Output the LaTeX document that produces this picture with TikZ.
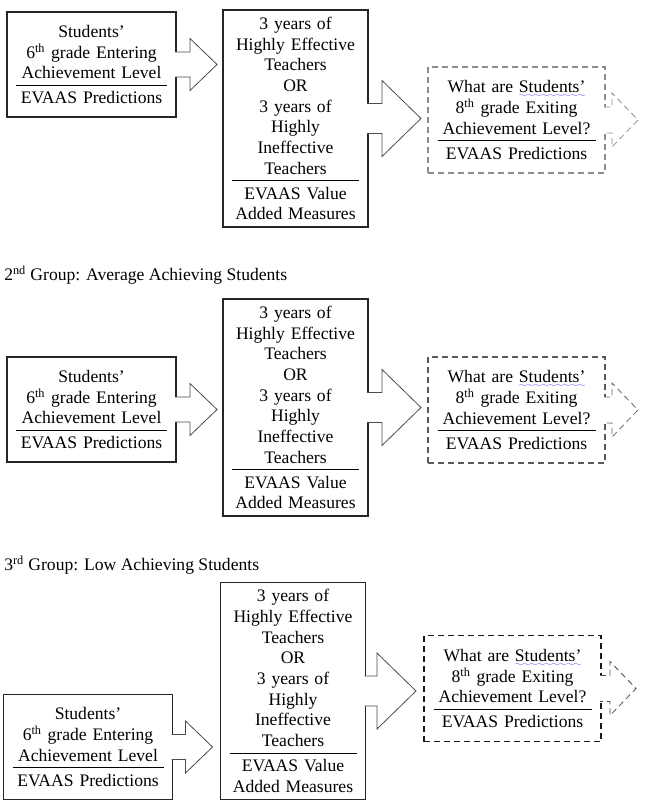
\documentclass[tikz,border=0pt]{standalone}
\usepackage{fontspec}
\setmainfont{Liberation Serif}
\usepackage{tikz}
\usetikzlibrary{positioning,calc}

\font\wavefont=lasy6
\newcommand{\sepline}{\\[-10.3pt]\rule{\linewidth}{0.6pt}\\[-2pt]}
\newcommand{\spellwave}[1]{\setbox0\hbox{#1}\rlap{\textcolor{blue!75}{\lower3.5pt\hbox to\wd0{\xleaders\hbox{\wavefont\char58}\hfil}}}#1}
% block arrow: [style]{from}{to}{gap}{shaft half}{head half}{head length}
\newcommand{\blockarrow}[7][]{%
  \path (#2.east -| #3) ++(-#4,0) coordinate (tip);
  \filldraw[arrowline,#1] ($(#2.east)+(-1,-#5)$) -- ($(tip)+(-#7,-#5)$) -- ($(tip)+(-#7,-#6)$)
    -- (tip) -- ($(tip)+(-#7,#6)$) -- ($(tip)+(-#7,#5)$) -- ($(#2.east)+(-1,#5)$);}

\tikzset{
  box/.style={draw=black!85, line width=0.8pt, fill=white, inner sep=0pt, outer sep=0pt,
    align=center, font=\fontsize{13.2pt}{15.5pt}\selectfont},
  enter/.style={box, text width=113.25pt, minimum width=126.75pt, minimum height=78.75pt},
  teach/.style={box, text width=95.25pt, minimum width=108.75pt, minimum height=162.75pt},
  exit/.style={box, draw=#1, dash pattern=on 4.5pt off 3pt, text width=118.5pt,
    minimum width=132.75pt, minimum height=79.5pt},
  exit/.default=black!60,
  arrowline/.style={draw=black!70, line width=0.6pt, fill=white},
  grouplabel/.style={anchor=west, inner sep=0pt, font=\fontsize{13.2pt}{15.5pt}\selectfont}
}

\begin{document}
\begin{tikzpicture}[x=0.75pt,y=-0.75pt]
\useasboundingbox (0,0) rectangle (645,810);

% first group
\node[enter] (enterA) at (91.5,64.5) {Students'\\ 6\textsuperscript{th} grade Entering\\ Achievement Level\sepline EVAAS Predictions};
\node[teach] (teachA) at (295.5,118.5) {3 years of\\ Highly Effective\\ Teachers\\ OR\\ 3 years of\\ Highly\\ Ineffective\\ Teachers\sepline EVAAS Value\\ Added Measures};
\node[exit=black!45] (exitA) at (516.5,120) {What are \spellwave{Students'}\\ 8\textsuperscript{th} grade Exiting\\ Achievement Level?\sepline EVAAS Predictions};
\coordinate (outA) at ($(exitA.east)+(33,0)$);
\blockarrow{enterA}{teachA.west}{6}{12.5}{26}{27}
\blockarrow{teachA}{exitA.west}{7}{15}{38}{39}
\blockarrow[draw=black!45, dash pattern=on 4.5pt off 3pt]{exitA}{outA}{0}{13}{27}{26}

% second group
\node[grouplabel] (groupB) at (4,275) {2\textsuperscript{nd} Group: Average Achieving Students};
\node[enter] (enterB) at (91.5,409.5) {Students'\\ 6\textsuperscript{th} grade Entering\\ Achievement Level\sepline EVAAS Predictions};
\node[teach] (teachB) at (295.5,407.5) {3 years of\\ Highly Effective\\ Teachers\\ OR\\ 3 years of\\ Highly\\ Ineffective\\ Teachers\sepline EVAAS Value\\ Added Measures};
\node[exit=black!65] (exitB) at (516.5,410) {What are \spellwave{Students'}\\ 8\textsuperscript{th} grade Exiting\\ Achievement Level?\sepline EVAAS Predictions};
\coordinate (outB) at ($(exitB.east)+(33,0)$);
\blockarrow{enterB}{teachB.west}{6}{12.5}{26}{27}
\blockarrow{teachB}{exitB.west}{7}{15}{38}{39}
\blockarrow[draw=black!60, dash pattern=on 4.5pt off 3pt]{exitB}{outB}{0}{13}{27}{26}

% third group
\node[grouplabel] (groupC) at (4,565) {3\textsuperscript{rd} Group: Low Achieving Students};
\node[enter] (enterC) at (88,747) {Students'\\ 6\textsuperscript{th} grade Entering\\ Achievement Level\sepline EVAAS Predictions};
\node[teach] (teachC) at (293,691) {3 years of\\ Highly Effective\\ Teachers\\ OR\\ 3 years of\\ Highly\\ Ineffective\\ Teachers\sepline EVAAS Value\\ Added Measures};
\node[exit=black!90] (exitC) at (512.5,688.5) {What are \spellwave{Students'}\\ 8\textsuperscript{th} grade Exiting\\ Achievement Level?\sepline EVAAS Predictions};
\coordinate (outC) at ($(exitC.east)+(35,0)$);
\blockarrow{enterC}{teachC.west}{8}{12.5}{26}{27}
\blockarrow{teachC}{exitC.west}{8}{15}{38}{39}
\blockarrow[draw=black!70, dash pattern=on 4.5pt off 3pt]{exitC}{outC}{0}{13}{27}{26}
\end{tikzpicture}
\end{document}
